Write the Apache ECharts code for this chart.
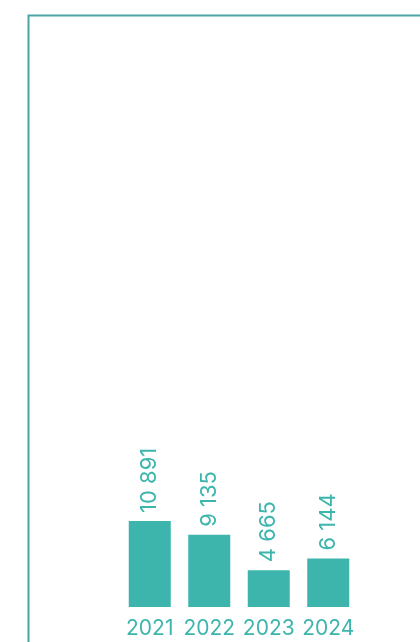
<!DOCTYPE html>
<html><head><meta charset="utf-8">
<style>html,body{margin:0;padding:0;background:#fff}#c{width:420px;height:642px}</style>
<script src="https://cdn.jsdelivr.net/npm/echarts@6/dist/echarts.min.js"></script>
</head><body><div id="c"></div>
<script>
var categories = ['2021', '2022', '2023', '2024'];
var values = [10891, 9135, 4665, 6144];
var labelTexts = ['10 891', '9 135', '4 665', '6 144'];

var chart = echarts.init(document.getElementById('c'));
chart.setOption({
  animation: false,
  graphic: [{
    type: 'rect', left: 26, top: 13,
    shape: { width: 420, height: 660 },
    style: { fill: 'none', stroke: '#4aa4a6', lineWidth: 2 }
  }],
  grid: { left: 120, width: 238, top: 133, bottom: 35 },
  xAxis: {
    type: 'category', data: categories,
    axisLine: { show: false }, axisTick: { show: false },
    axisLabel: { interval: 0, color: '#3db5ac', fontFamily: 'Inter', fontSize: 21, margin: 11 }
  },
  yAxis: { type: 'value', min: 0, max: 60000, show: false, splitLine: { show: false } },
  series: [{
    type: 'bar', data: values, barWidth: 42,
    itemStyle: { color: '#3db5ac' },
    label: {
      show: true, position: 'top', rotate: 90, distance: 8,
      align: 'left', verticalAlign: 'middle',
      color: '#3db5ac', fontFamily: 'Inter', fontSize: 22,
      formatter: function (p) { return labelTexts[p.dataIndex]; }
    }
  }]
});
</script></body></html>
